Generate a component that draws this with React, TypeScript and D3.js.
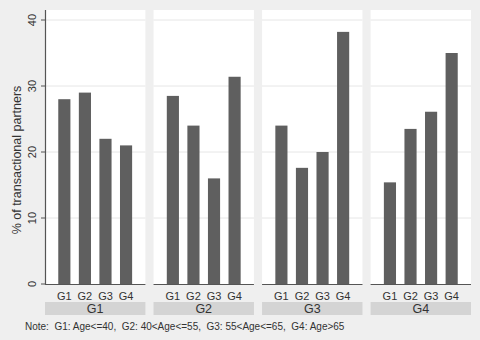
import React from 'react';
import * as d3 from 'd3';

const panels = ['G1', 'G2', 'G3', 'G4'];
const groups = ['G1', 'G2', 'G3', 'G4'];
const g1Values = [28, 29, 22, 21];
const g2Values = [28.5, 24, 16, 31.4];
const g3Values = [24, 17.6, 20, 38.2];
const g4Values = [15.4, 23.5, 26.1, 35];
const yTicks = [0, 10, 20, 30, 40];
const note = 'Note:  G1: Age<=40,  G2: 40<Age<=55,  G3: 55<Age<=65,  G4: Age>65';

const W = 480;
const H = 340;
const font = 'Liberation Sans, Arial, sans-serif';

export default function App() {
  const values = [g1Values, g2Values, g3Values, g4Values];

  // panel placement
  const outer = d3.scaleBand<string>().domain(panels).range([45, 471]).paddingInner(0.075);
  const y = d3.scaleLinear().domain([0, 40]).range([284, 20]);
  const panelTop = 10;
  const pw = outer.bandwidth();

  const inner = d3.scaleBand<string>().domain(groups).range([0, pw]).paddingInner(0.41).paddingOuter(0.645);

  return (
    <svg width={W} height={H} style={{ position: 'absolute', left: 0, top: 0, display: 'block' }} fontFamily={font}>
      <rect width={W} height={H} fill="#efefef" />
      {panels.map((p, pi) => {
        const x0 = outer(p)!;
        return (
          <g key={p} transform={`translate(${x0},0)`}>
            <rect x={0} y={panelTop} width={pw} height={y(0) - panelTop} fill="#fff" />
            {yTicks.filter(t => t > 0).map(t => (
              <line key={t} x1={0} x2={pw} y1={y(t)} y2={y(t)} stroke="#e6e6e6" strokeWidth={1} />
            ))}
            {groups.map((g, gi) => (
              <rect key={g} x={inner(g)} y={y(values[pi][gi])} width={inner.bandwidth()}
                height={y(0) - y(values[pi][gi])} fill="#5f5f5f" />
            ))}
            <line x1={0} x2={pw} y1={y(0) + 0.5} y2={y(0) + 0.5} stroke="#555" strokeWidth={1.2} />
            {groups.map(g => (
              <text key={g} x={inner(g)! + inner.bandwidth() / 2} y={299.5} textAnchor="middle"
                fontSize={11} fill="#333">{g}</text>
            ))}
            <rect x={0} y={302} width={pw} height={13} fill="#d4d4d4" />
            <text x={pw / 2} y={313} textAnchor="middle" fontSize={12.5} fill="#333">{p}</text>
          </g>
        );
      })}
      {/* y axis */}
      <line x1={45.5} x2={45.5} y1={panelTop} y2={y(0) + 1} stroke="#555" strokeWidth={1.2} />
      {yTicks.map(t => (
        <g key={t}>
          <line x1={41} x2={45} y1={y(t)} y2={y(t)} stroke="#555" />
          <text transform={`translate(36,${y(t)}) rotate(-90)`} textAnchor="middle" fontSize={11} fill="#333">{t}</text>
        </g>
      ))}
      <text transform={`translate(21,160) rotate(-90)`} textAnchor="middle"
        fontSize={12.5} fill="#333">% of transactional partners</text>
      <text x={25} y={330} fontSize={10} fill="#333" style={{ whiteSpace: 'pre' }}>{note}</text>
    </svg>
  );
}
